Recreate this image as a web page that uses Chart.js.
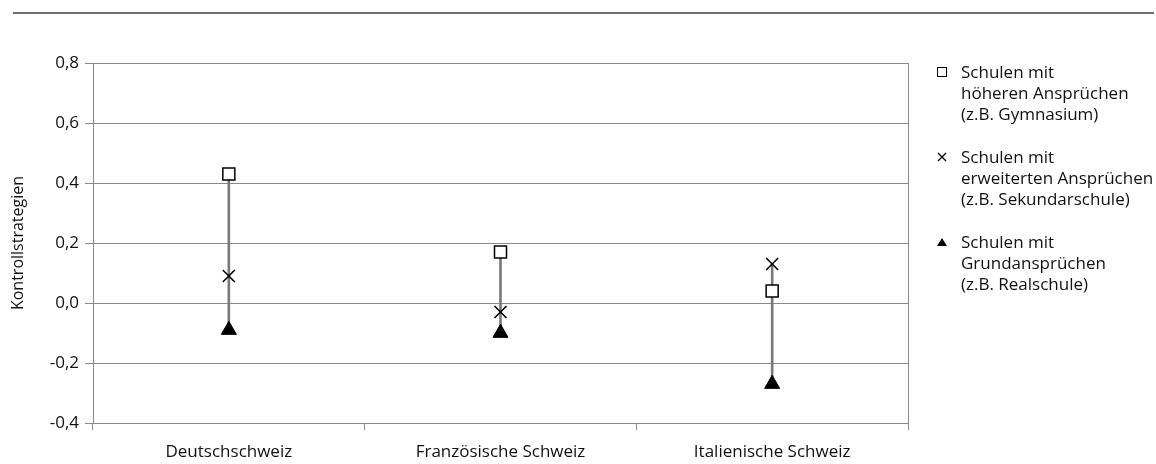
<!DOCTYPE html>
<html>
<head>
<meta charset="utf-8">
<script src="https://cdn.jsdelivr.net/npm/chart.js@4/dist/chart.umd.min.js"></script>
<style>
  html, body { margin: 0; padding: 0; background: #fff; }
  #wrap { position: relative; width: 1156px; height: 464px; overflow: hidden; }
  #rule { position: absolute; left: 13px; top: 12px; width: 1141px; height: 2px; background: #6f6f6f; }
  #chart { position: absolute; left: 0; top: 0; }
  #legend { position: absolute; left: 937px; top: 61px; font-family: "Open Sans", sans-serif; font-size: 17px; line-height: 21px; color: #111; }
  .item { position: relative; padding-left: 24px; margin-bottom: 22px; white-space: nowrap; }
  .sym { position: absolute; left: 0; top: 6px; width: 10px; height: 10px; }
</style>
</head>
<body>
<div id="wrap">
  <div id="rule"></div>
  <canvas id="chart" width="1156" height="464"></canvas>
  <div id="legend">
    <div class="item">
      <svg class="sym" viewBox="0 0 10 10"><rect x="0.5" y="0.5" width="9" height="9" fill="#fff" stroke="#000" stroke-width="1"/></svg>
      Schulen mit<br>höheren Ansprüchen<br>(z.B. Gymnasium)
    </div>
    <div class="item">
      <svg class="sym" viewBox="0 0 10 10"><path d="M1 1 L9 9 M9 1 L1 9" stroke="#000" stroke-width="1.3"/></svg>
      Schulen mit<br>erweiterten Ansprüchen<br>(z.B. Sekundarschule)
    </div>
    <div class="item">
      <svg class="sym" viewBox="0 0 10 10"><path d="M5 1 L10 9 L0 9 Z" fill="#000"/></svg>
      Schulen mit<br>Grundansprüchen<br>(z.B. Realschule)
    </div>
  </div>
</div>
<script>
// Sprachregionen und Mittelwerte der Kontrollstrategien je Schultyp
const categories = ['Deutschschweiz', 'Französische Schweiz', 'Italienische Schweiz'];
const hoehereAnsprueche = [0.43, 0.17, 0.04];
const erweiterteAnsprueche = [0.09, -0.03, 0.13];
const grundansprueche = [-0.09, -0.10, -0.27];
const yTickValues = [-0.4, -0.2, 0.0, 0.2, 0.4, 0.6, 0.8];
const yTickLabels = ['-0,4', '-0,2', '0,0', '0,2', '0,4', '0,6', '0,8'];

// Spannweite je Region: vom kleinsten bis zum größten Wert
const ranges = categories.map((_, i) => {
  const v = [hoehereAnsprueche[i], erweiterteAnsprueche[i], grundansprueche[i]];
  return [Math.min(...v), Math.max(...v)];
});

const GRID = '#8a8a8a';
Chart.defaults.font.family = '"Open Sans", sans-serif';
Chart.defaults.font.size = 16;
Chart.defaults.color = '#111';

// rechter Rahmen der Zeichenfläche
const rightFrame = {
  id: 'rightFrame',
  afterDraw(chart) {
    const { ctx, chartArea } = chart;
    ctx.save();
    ctx.strokeStyle = GRID;
    ctx.lineWidth = 1;
    ctx.beginPath();
    ctx.moveTo(Math.round(chartArea.right) + 0.5, chartArea.top);
    ctx.lineTo(Math.round(chartArea.right) + 0.5, chartArea.bottom);
    ctx.stroke();
    ctx.restore();
  }
};

new Chart(document.getElementById('chart'), {
  data: {
    labels: categories,
    datasets: [
      {
        type: 'bar',
        label: 'Spannweite',
        data: ranges,
        backgroundColor: '#7a7a7a',
        borderWidth: 0,
        barThickness: 2,
        order: 10
      },
      {
        type: 'line',
        label: 'Schulen mit höheren Ansprüchen',
        data: hoehereAnsprueche,
        showLine: false,
        pointStyle: 'rect',
        pointRadius: 8.5,
        pointBackgroundColor: '#fff',
        pointBorderColor: '#000',
        pointBorderWidth: 1.5,
        order: 1
      },
      {
        type: 'line',
        label: 'Schulen mit erweiterten Ansprüchen',
        data: erweiterteAnsprueche,
        showLine: false,
        pointStyle: 'crossRot',
        pointRadius: 8.5,
        pointBorderColor: '#000',
        pointBorderWidth: 1.6,
        order: 1
      },
      {
        type: 'line',
        label: 'Schulen mit Grundansprüchen',
        data: grundansprueche,
        showLine: false,
        pointStyle: 'triangle',
        pointRadius: 8.7,
        pointBackgroundColor: '#000',
        pointBorderColor: '#000',
        pointBorderWidth: 1,
        order: 1
      }
    ]
  },
  options: {
    responsive: false,
    animation: false,
    layout: { padding: { top: 63, right: 248, left: 0, bottom: 0 } },
    plugins: { legend: { display: false }, tooltip: { enabled: false } },
    scales: {
      x: {
        type: 'category',
        offset: true,
        grid: { offset: true, drawOnChartArea: false, tickLength: 7, color: GRID, lineWidth: 1 },
        border: { color: GRID, width: 1 },
        ticks: { padding: 12, color: '#111', font: { size: 17 } },
        afterFit(scale) { scale.height = 41; }
      },
      y: {
        min: -0.4,
        max: 0.8,
        afterFit(scale) { scale.width = 93; },
        afterBuildTicks(scale) { scale.ticks = yTickValues.map(v => ({ value: v })); },
        grid: { color: GRID, lineWidth: 1, tickLength: 8 },
        border: { color: GRID, width: 1 },
        ticks: {
          padding: 6,
          color: '#111',
          font: { size: 17 },
          callback: (v) => {
            const i = yTickValues.findIndex(t => Math.abs(t - v) < 1e-9);
            return i >= 0 ? yTickLabels[i] : '';
          }
        },
        title: { display: true, text: 'Kontrollstrategien', color: '#111', font: { size: 16 }, padding: { top: 9, bottom: 4 } }
      }
    }
  },
  plugins: [rightFrame]
});
</script>
</body>
</html>
